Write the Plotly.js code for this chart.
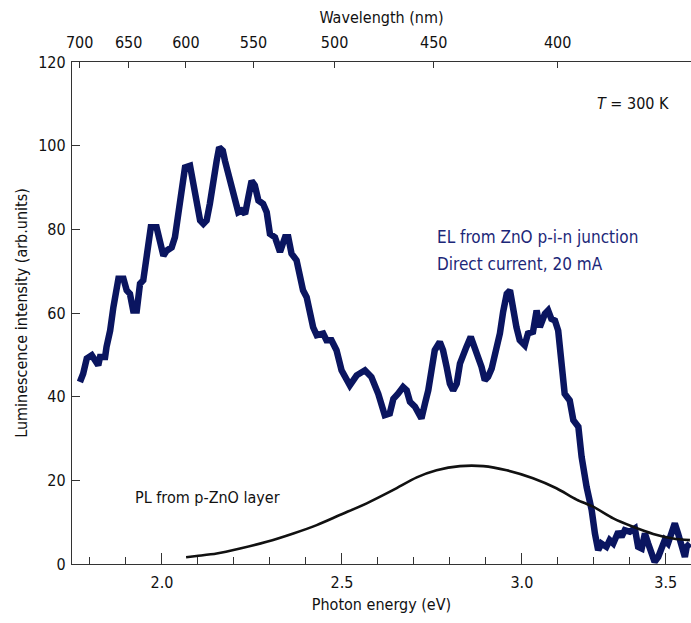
<!DOCTYPE html>
<html>
<head>
<meta charset="utf-8">
<script src="https://cdn.plot.ly/plotly-3.0.1.min.js"></script>
<style>html,body{margin:0;padding:0;background:#fff;}#chart{width:691px;height:623px;}</style>
</head>
<body>
<div id="chart"></div>
<script>
// EL spectrum (photon energy in eV, intensity in arb. units)
const elEnergy = [1.772,1.781,1.791,1.805,1.814,1.823,1.828,1.842,1.846,1.856,1.865,1.874,1.879,1.893,1.902,1.911,1.920,1.930,1.939,1.948,1.956,1.962,1.969,1.985,1.994,2.004,2.013,2.027,2.036,2.045,2.055,2.064,2.078,2.087,2.096,2.106,2.115,2.124,2.133,2.143,2.152,2.159,2.169,2.175,2.184,2.194,2.203,2.212,2.221,2.231,2.240,2.249,2.258,2.268,2.281,2.291,2.300,2.314,2.328,2.342,2.351,2.360,2.374,2.383,2.392,2.402,2.411,2.420,2.430,2.448,2.457,2.471,2.485,2.499,2.522,2.541,2.564,2.582,2.601,2.619,2.633,2.643,2.656,2.670,2.680,2.689,2.703,2.721,2.731,2.740,2.749,2.758,2.772,2.781,2.791,2.800,2.809,2.819,2.828,2.837,2.846,2.858,2.867,2.879,2.888,2.897,2.906,2.916,2.930,2.939,2.948,2.958,2.967,2.976,2.985,2.994,3.008,3.017,3.031,3.041,3.050,3.064,3.073,3.082,3.092,3.101,3.110,3.119,3.133,3.143,3.157,3.166,3.180,3.194,3.203,3.212,3.221,3.235,3.244,3.254,3.268,3.277,3.286,3.300,3.314,3.323,3.333,3.342,3.351,3.360,3.369,3.379,3.388,3.397,3.406,3.416,3.425,3.434,3.444,3.453,3.458,3.467];
const elIntensity = [43.5,45.5,49.1,49.9,48.7,47.5,49.5,49.5,51.9,55.8,61.4,65.4,68.2,68.2,65.4,64.6,60.6,60.6,67.0,67.8,73.3,76.5,80.5,80.5,77.3,73.7,74.9,75.7,78.1,83.7,89.3,94.8,95.2,90.9,86.1,82.1,81.3,82.1,86.1,92.4,96.4,99.6,98.8,96.4,93.2,90.0,86.1,84.1,84.5,83.7,87.7,91.6,90.5,86.9,86.1,84.1,78.9,78.1,74.6,78.1,78.1,74.2,72.6,69.4,65.4,63.8,60.6,56.6,54.7,55.1,53.5,53.5,51.1,46.3,42.7,45.1,46.3,44.7,40.7,35.6,36.0,39.5,40.7,42.3,41.5,38.8,37.6,34.8,38.4,41.5,46.3,51.1,53.1,51.1,47.1,43.1,41.5,43.1,47.9,49.5,51.9,54.3,52.3,49.5,47.1,43.9,44.7,46.7,51.1,55.1,60.3,64.6,65.4,60.6,56.6,53.5,52.3,55.1,55.5,60.6,56.6,59.8,60.6,58.6,58.2,55.8,49.5,40.7,39.1,34.4,32.8,25.6,18.4,12.9,7.3,3.3,4.9,4.1,5.7,4.9,7.7,6.5,8.1,7.7,8.5,4.1,3.7,7.3,4.9,2.5,0.5,1.7,4.1,5.7,4.9,7.3,9.7,7.3,4.9,1.7,4.1,4.9];

// PL spectrum
const plEnergy = [2.067,2.096,2.152,2.217,2.291,2.365,2.430,2.494,2.569,2.643,2.708,2.763,2.828,2.893,2.958,3.031,3.096,3.152,3.198,3.254,3.309,3.365,3.420,3.467];
const plIntensity = [1.6,1.9,2.5,3.7,5.3,7.3,9.3,11.7,14.5,17.7,20.7,22.4,23.4,23.4,22.4,20.5,18.1,15.4,13.7,10.9,8.9,7.2,6.1,5.7];

// Axis ticks
const energyTickVals = [2.0, 2.5, 3.0, 3.4];
const energyTickText = ['2.0', '2.5', '3.0', '3.5'];
const wavelengths = [700, 650, 600, 550, 500, 450, 400];
const wavelengthText = wavelengths.map(String);
const yTickVals = [0, 20, 40, 60, 80, 100, 120];

const hc = 1239.84; // eV·nm
const wavelengthPos = wavelengths.map(w => hc / w);

const FONT = '"Liberation Sans Narrow", "Arial Narrow", "DejaVu Sans Condensed", sans-serif';
const AX = '#333333';
const xRange = [1.75, 3.47];

const traces = [
  {x: plEnergy, y: plIntensity, xaxis: 'x2', yaxis: 'y', mode: 'lines',
   line: {color: '#111111', width: 2.6, shape: 'spline', smoothing: 0.8}, hoverinfo: 'skip'},
  {x: elEnergy, y: elIntensity, xaxis: 'x', yaxis: 'y', mode: 'lines',
   line: {color: '#0a1560', width: 6.5, shape: 'linear'}, hoverinfo: 'skip'}
];

const layout = {
  width: 691, height: 623,
  margin: {l: 72, r: 0, t: 62, b: 59},
  paper_bgcolor: '#ffffff', plot_bgcolor: '#ffffff',
  showlegend: false,
  font: {family: FONT, size: 16, color: '#111'},
  xaxis: {
    range: xRange, showgrid: false, zeroline: false,
    showline: true, linecolor: AX, linewidth: 1.2,
    tickmode: 'array', tickvals: energyTickVals, ticktext: energyTickText,
    ticks: 'inside', ticklen: 11, tickcolor: AX, tickwidth: 1,
    minor: {tick0: 1.8, dtick: 0.1, ticks: 'inside', ticklen: 7, tickcolor: AX, tickwidth: 1},
    tickfont: {family: FONT, size: 16, color: '#111'},
    ticklabelstandoff: 4,
    title: {text: 'Photon energy (eV)', font: {family: FONT, size: 16, color: '#111'}, standoff: 7}
  },
  xaxis2: {
    range: xRange, overlaying: 'x', side: 'top', anchor: 'y',
    showgrid: false, zeroline: false,
    showline: true, linecolor: AX, linewidth: 1.2,
    tickmode: 'array', tickvals: wavelengthPos, ticktext: wavelengthText,
    ticks: 'inside', ticklen: 6, tickcolor: AX, tickwidth: 1,
    tickfont: {family: FONT, size: 16, color: '#111'},
    ticklabelstandoff: 6,
    title: {text: 'Wavelength (nm)', font: {family: FONT, size: 16, color: '#111'}, standoff: 5}
  },
  yaxis: {
    range: [0, 120], showgrid: false, zeroline: false,
    showline: true, linecolor: AX, linewidth: 1.2,
    tickmode: 'array', tickvals: yTickVals,
    ticks: 'inside', ticklen: 8, tickcolor: AX, tickwidth: 1,
    tickfont: {family: FONT, size: 16, color: '#111'},
    ticklabelstandoff: 2,
    title: {text: 'Luminescence intensity (arb.units)', font: {family: FONT, size: 16, color: '#111'}, standoff: 6}
  },
  annotations: [
    {xref: 'x', yref: 'y', x: 3.308, y: 110.2, text: '<i>T</i> = 300 K', showarrow: false,
     xanchor: 'center', yanchor: 'middle', font: {family: FONT, size: 16, color: '#111'}},
    {xref: 'x', yref: 'y', x: 2.76, y: 78.2, text: 'EL from ZnO p-i-n junction', showarrow: false,
     xanchor: 'left', yanchor: 'middle', font: {family: FONT, size: 17, color: '#1c2778'}},
    {xref: 'x', yref: 'y', x: 2.76, y: 71.7, text: 'Direct current, 20 mA', showarrow: false,
     xanchor: 'left', yanchor: 'middle', font: {family: FONT, size: 17, color: '#1c2778'}},
    {xref: 'x', yref: 'y', x: 1.919, y: 16.0, text: 'PL from p-ZnO layer', showarrow: false,
     xanchor: 'left', yanchor: 'middle', font: {family: FONT, size: 16, color: '#111'}}
  ]
};

Plotly.newPlot('chart', traces, layout, {staticPlot: true, displayModeBar: false});
</script>
</body>
</html>
